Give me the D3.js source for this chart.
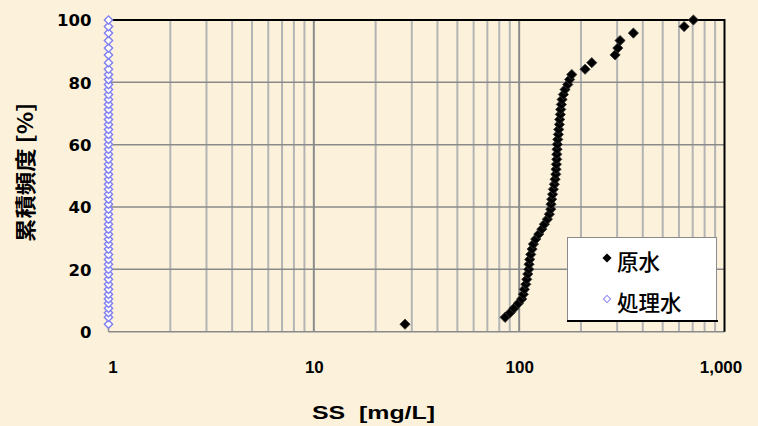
<!DOCTYPE html>
<html><head><meta charset="utf-8">
<script src="https://cdn.jsdelivr.net/npm/d3@7"></script>
<style>
html,body{margin:0;padding:0;background:#fcf2dc;}
svg{display:block;}
</style></head>
<body>
<svg id="chart" width="758" height="426"></svg>
<script>
// ---- data ----
const seriesNames = ["原水", "処理水"];
const cumFreq = [2.4,4.6,6.1,7.5,9.1,10.5,12.0,13.6,15.2,16.8,18.5,20.0,21.6,23.2,24.8,26.5,28.1,29.7,31.3,32.9,34.5,36.1,37.7,39.3,40.9,42.5,44.1,45.7,47.3,48.9,50.5,52.1,53.7,55.3,56.9,58.5,60.1,61.7,63.3,64.9,66.5,68.1,69.7,71.3,72.9,74.5,76.1,77.7,79.3,80.9,82.5,84.2,86.3,88.8,91.0,93.4,95.8,97.9,100];
const rawSS = [27.8,85.4,90.3,94.4,99.1,102.9,104.8,106.0,107.7,108.9,110.1,111.4,111.7,112.6,113.9,115.6,117.3,120.4,124.6,128.9,132.7,137.2,140.3,142.5,143.0,144.0,145.5,146.7,148.4,149.6,150.8,151.2,151.8,152.4,152.6,152.9,153.4,154.2,155.2,155.9,157.0,157.6,158.7,159.4,160.5,161.8,164.2,167.3,172.5,176.0,180.4,209.4,225.7,293.2,302.2,310.0,360.0,635.8,705.6];
const treatedSS = [1,1,1,1,1,1,1,1,1,1,1,1,1,1,1,1,1,1,1,1,1,1,1,1,1,1,1,1,1,1,1,1,1,1,1,1,1,1,1,1,1,1,1,1,1,1,1,1,1,1,1,1,1,1,1,1,1,1,1];
const xTicks = [1, 10, 100, 1000];
const yTicks = [0, 20, 40, 60, 80, 100];
const xTitle = "SS\u00a0\u00a0[mg/L]";
const yTitle = "累積頻度\u00a0[%]";

// ---- layout ----
const svg = d3.select("#chart");
const L = 108.5, R = 724.5, T = 20, B = 331.7;
const x = d3.scaleLog().domain([1, 1000]).range([L, R]);
const y = d3.scaleLinear().domain([0, 100]).range([B, T]);

// minor vertical gridlines
const minor = [];
for (let d = 1; d < 1000; d *= 10) for (let k = 2; k <= 9; k++) minor.push(d * k);
svg.append("g").selectAll("line").data(minor).join("line")
  .attr("x1", d => x(d)).attr("x2", d => x(d)).attr("y1", T).attr("y2", B)
  .attr("stroke", "#b4b4b4").attr("stroke-width", 2);
// decade lines
svg.append("g").selectAll("line").data([10, 100]).join("line")
  .attr("x1", d => x(d)).attr("x2", d => x(d)).attr("y1", T).attr("y2", B)
  .attr("stroke", "#8c8c8c").attr("stroke-width", 2);
// horizontal lines
svg.append("g").selectAll("line").data(yTicks.filter(v => v < 100)).join("line")
  .attr("x1", L).attr("x2", R).attr("y1", d => y(d)).attr("y2", d => y(d))
  .attr("stroke", "#8a8a8a").attr("stroke-width", 1.5);
// left axis line
svg.append("line").attr("x1", L).attr("x2", L).attr("y1", T).attr("y2", B)
  .attr("stroke", "#8a8a8a").attr("stroke-width", 1.5);
// top & right border
svg.append("path").attr("d", `M${L},${T}H${R}V${B}`)
  .attr("fill", "none").attr("stroke", "#000").attr("stroke-width", 2);

// axes (labels only)
const yAxis = svg.append("g").attr("transform", `translate(${L},0)`)
  .call(d3.axisLeft(y).tickValues(yTicks).tickSize(0).tickPadding(17));
yAxis.select(".domain").remove();
yAxis.selectAll("text").attr("font-family", "DejaVu Sans").attr("font-weight", "bold")
  .attr("font-size", 16.5).attr("fill", "#000").attr("dy", "0.36em");

const xAxis = svg.append("g").attr("transform", `translate(0,${B})`)
  .call(d3.axisBottom(x).tickValues(xTicks).tickFormat(d3.format(",")).tickSize(0).tickPadding(29));
xAxis.select(".domain").remove();
xAxis.selectAll("text").attr("font-family", "Liberation Sans").attr("font-weight", "bold")
  .attr("font-size", 17).attr("fill", "#000");
xAxis.selectAll(".tick").filter(d => d === 1).select("text").attr("dx", 4);
xAxis.selectAll(".tick").filter(d => d === 1000).select("text").attr("dx", -4);

// titles
svg.append("text").attr("x", 373.5).attr("y", 419).attr("text-anchor", "middle")
  .attr("font-family", "Liberation Sans").attr("font-weight", "bold").attr("font-size", 19)
  .attr("textLength", 123).attr("lengthAdjust", "spacingAndGlyphs")
  .text(xTitle);
svg.append("text").attr("transform", "translate(33,172.5) rotate(-90)")
  .attr("text-anchor", "middle").attr("font-family", "Noto Sans CJK JP").attr("font-weight", "bold")
  .attr("font-size", 21).attr("textLength", 139).attr("lengthAdjust", "spacingAndGlyphs")
  .text(yTitle);

// symbols
const diamond = d3.symbol().type(d3.symbolSquare);
const rawPts = rawSS.map((v, i) => ({ v, p: cumFreq[i] }));
const trPts = treatedSS.map((v, i) => ({ v, p: cumFreq[i] }));

svg.append("g").selectAll("path").data(trPts).join("path")
  .attr("d", diamond.size(34))
  .attr("transform", d => `translate(${x(d.v)},${y(d.p)}) rotate(45)`)
  .attr("fill", "#ffffff").attr("stroke", "#7f7ff0").attr("stroke-width", 1.4);

svg.append("g").selectAll("path").data(rawPts).join("path")
  .attr("d", diamond.size(52))
  .attr("transform", d => `translate(${x(d.v)},${y(d.p)}) rotate(45)`)
  .attr("fill", "#000").attr("stroke", "#333").attr("stroke-width", 0.8);

// legend
const lg = svg.append("g");
lg.append("rect").attr("x", 567.5).attr("y", 237.5).attr("width", 149).attr("height", 83)
  .attr("fill", "#fff").attr("stroke", "#8a8a8a").attr("stroke-width", 1);
lg.append("line").attr("x1", 567).attr("x2", 718).attr("y1", 321).attr("y2", 321)
  .attr("stroke", "#000").attr("stroke-width", 2);
const legItems = [
  { name: seriesNames[0], cy: 258, fill: "#000", stroke: "#000", size: 30 },
  { name: seriesNames[1], cy: 299, fill: "#fff", stroke: "#8585f0", size: 26 }
];
legItems.forEach(it => {
  lg.append("path").attr("d", d3.symbol().type(d3.symbolSquare).size(it.size)())
    .attr("transform", `translate(607,${it.cy}) rotate(45)`)
    .attr("fill", it.fill).attr("stroke", it.stroke).attr("stroke-width", 1);
  lg.append("text").attr("x", 617).attr("y", it.cy + 4).attr("dy", "0.35em")
    .attr("font-family", "Noto Sans CJK JP").attr("font-size", 21.5).attr("font-weight", 500)
    .attr("fill", "#000").text(it.name);
});
</script>
</body></html>
